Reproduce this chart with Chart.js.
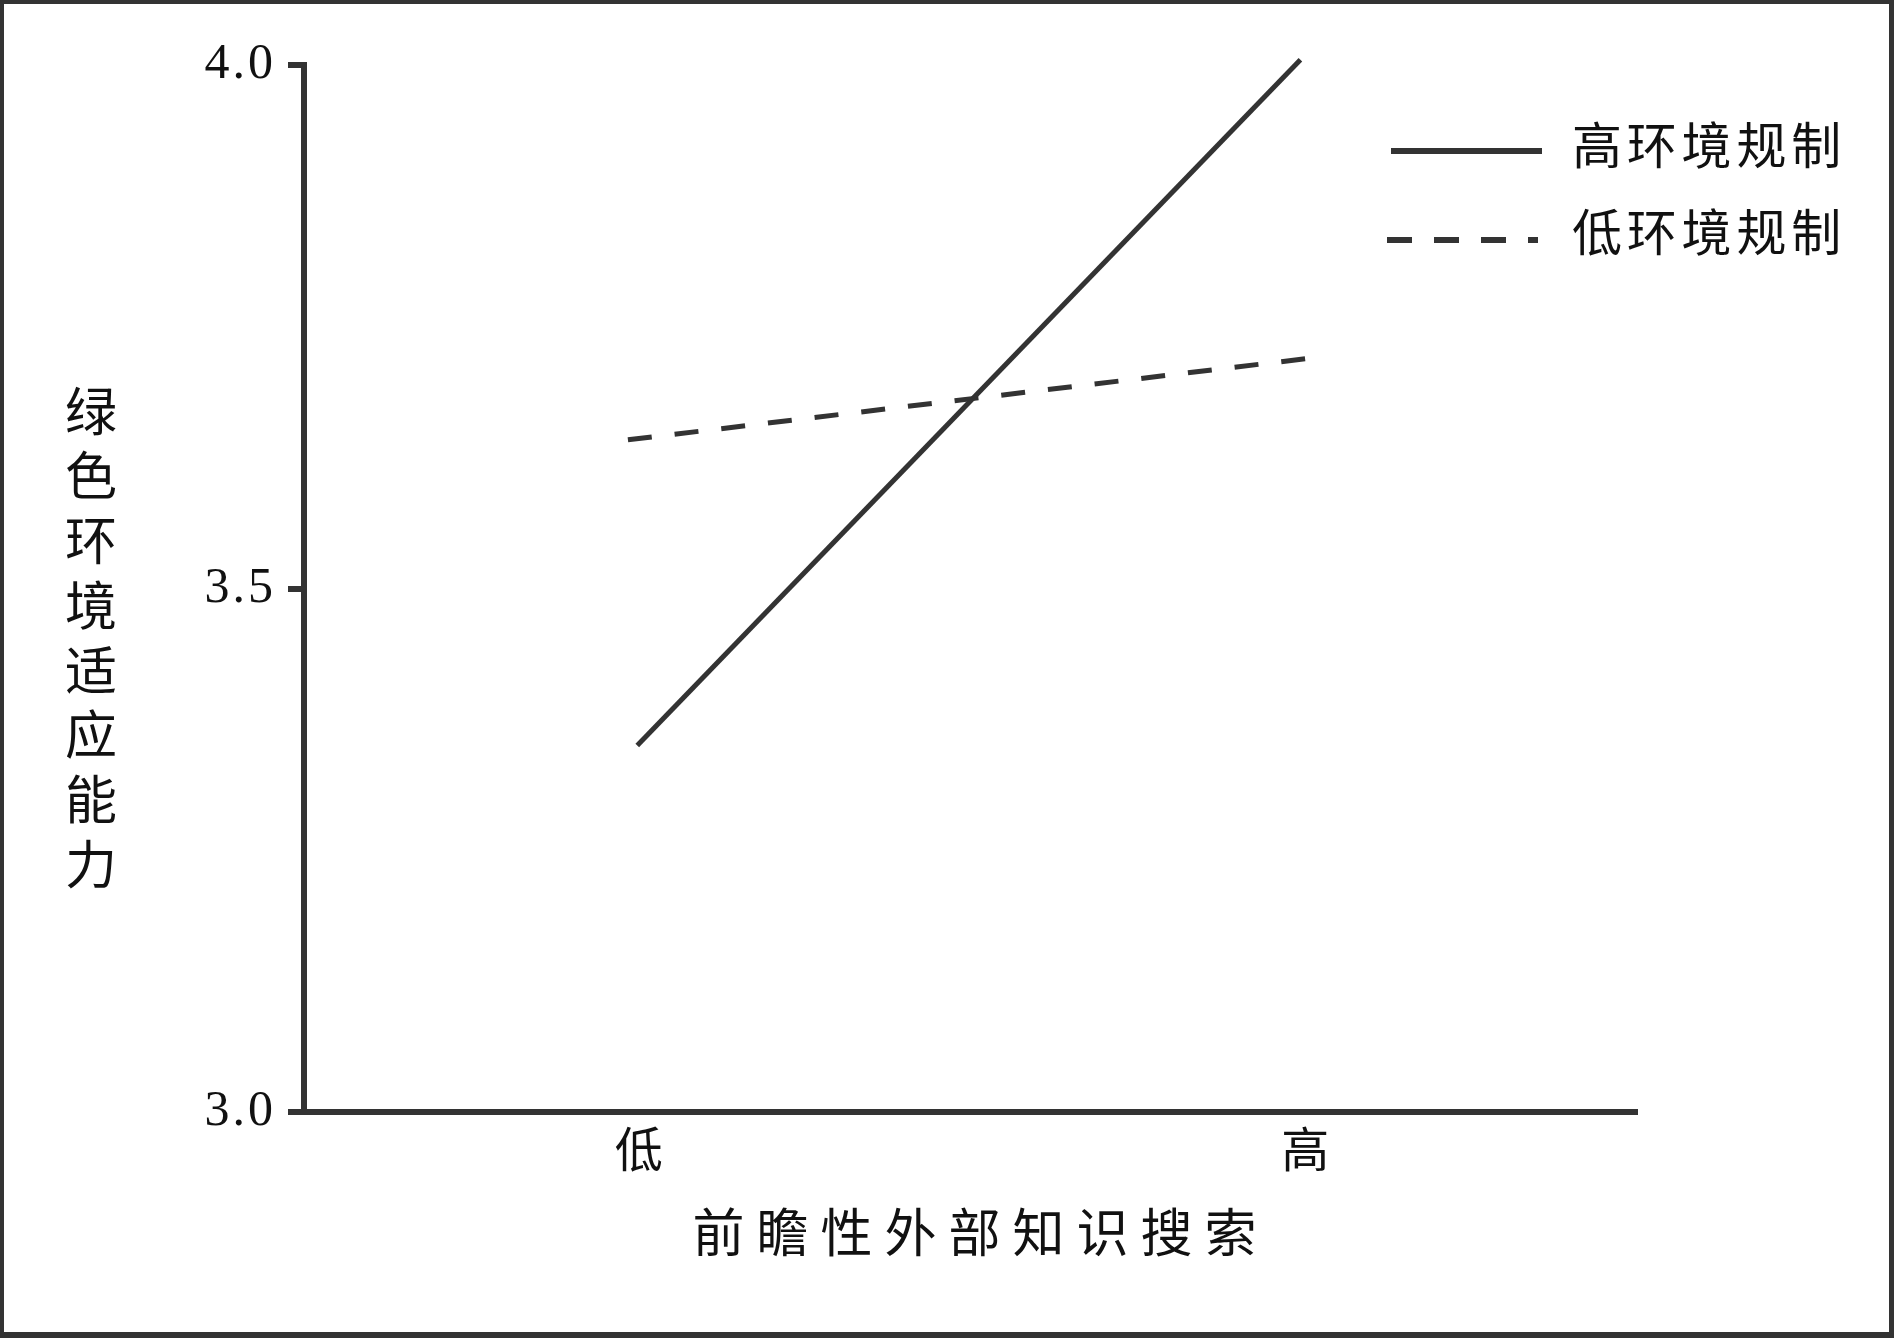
<!DOCTYPE html>
<html>
<head>
<meta charset="utf-8">
<script src="https://cdn.jsdelivr.net/npm/chart.js@4/dist/chart.umd.min.js"></script>
<style>
  html, body { margin: 0; padding: 0; background: #fff; }
  #wrap { position: relative; width: 1894px; height: 1338px; overflow: hidden; }
  #frame { position: absolute; left: 0; top: 0; width: 1894px; height: 1338px; box-sizing: border-box;
           border-style: solid; border-color: #333; border-width: 4px 5px 6px 4px; pointer-events: none; }
  canvas { display: block; }
</style>
</head>
<body>
<div id="wrap">
  <canvas id="c" width="1894" height="1338"></canvas>
  <div id="frame"></div>
</div>
<script>
// ---- data ----
const categories = ['低', '高'];
const categoryPositions = [0, 1];
const seriesNames = ['高环境规制', '低环境规制'];
const highRegulationX = [0, 0.995];
const highRegulation = [3.35, 4.005];
const lowRegulationX = [-0.014, 1.01];
const lowRegulation = [3.642, 3.72];
const yTickValues = [3.0, 3.5, 4.0];
const xTitle = '前瞻性外部知识搜索';
const yTitle = '绿色环境适应能力';

// ---- styles ----
const INK = '#333333';
const TEXT = '#111111';
const CJK = '"Noto Sans CJK SC", "Noto Sans CJK JP", sans-serif';
const SERIF = '"Liberation Serif", "DejaVu Serif", serif';

const spacing = {
  id: 'spacing',
  beforeDraw(chart) { chart.ctx.letterSpacing = '3px'; }
};

const overlay = {
  id: 'overlay',
  afterDraw(chart) {
    const ctx = chart.ctx;
    const area = chart.chartArea;
    ctx.save();
    ctx.letterSpacing = '0px';
    ctx.fillStyle = TEXT;
    ctx.textAlign = 'center';
    ctx.textBaseline = 'middle';

    // vertical y-axis title, upright stacked characters
    ctx.font = '52px ' + CJK;
    Array.from(yTitle).forEach((ch, i) => ctx.fillText(ch, 91, 411 + i * 64.7));

    // x-axis title with wide spacing
    const xc = (area.left + area.right) / 2 + 4;
    const xs = Array.from(xTitle);
    xs.forEach((ch, i) => ctx.fillText(ch, xc + (i - (xs.length - 1) / 2) * 64, 1232));

    // legend
    const items = chart.data.datasets.map((ds, i) => ({
      label: ds.label,
      dash: i === 0 ? [] : [25, 22],
      y: i === 0 ? 151 : 240,
      ty: i === 0 ? 145 : 232,
      x0: i === 0 ? 1391 : 1387,
      x1: i === 0 ? 1542 : 1538,
      color: ds.borderColor
    }));
    ctx.font = '50px ' + CJK;
    items.forEach(it => {
      ctx.beginPath();
      ctx.setLineDash(it.dash);
      ctx.lineWidth = 6;
      ctx.strokeStyle = it.color;
      ctx.moveTo(it.x0, it.y);
      ctx.lineTo(it.x1, it.y);
      ctx.stroke();
      ctx.setLineDash([]);
      Array.from(it.label).forEach((ch, k) => ctx.fillText(ch, 1597 + k * 54.8, it.ty));
    });
    ctx.restore();
  }
};

function toPoints(xs, ys) { return xs.map((x, i) => ({ x: x, y: ys[i] })); }

function draw() {
  new Chart(document.getElementById('c'), {
    type: 'line',
    data: {
      datasets: [
        { label: seriesNames[0], data: toPoints(highRegulationX, highRegulation), borderColor: INK, borderWidth: 5,
          pointRadius: 0, fill: false, tension: 0, clip: false },
        { label: seriesNames[1], data: toPoints(lowRegulationX, lowRegulation), borderColor: INK, borderWidth: 5,
          borderDash: [24, 23], pointRadius: 0, fill: false, tension: 0, clip: false }
      ]
    },
    options: {
      responsive: false,
      animation: false,
      events: [],
      layout: { padding: { left: 0, top: 65, right: 257, bottom: 0 } },
      plugins: { legend: { display: false }, tooltip: { enabled: false } },
      scales: {
        x: {
          type: 'linear',
          min: -0.5, max: 1.5,
          afterBuildTicks(scale) { scale.ticks = categoryPositions.map(v => ({ value: v })); },
          grid: { display: false, drawTicks: false },
          border: { display: true, color: INK, width: 6 },
          ticks: { color: TEXT, font: { family: CJK, size: 48 }, padding: 8, maxRotation: 0, labelOffset: 3,
                   callback: v => categories[categoryPositions.indexOf(v)] },
          afterFit(scale) { scale.height = 226; }
        },
        y: {
          min: 3, max: 4,
          afterBuildTicks(scale) { scale.ticks = yTickValues.map(v => ({ value: v })); },
          grid: { display: true, drawOnChartArea: false, drawTicks: true, tickLength: 16,
                  lineWidth: 6, color: INK },
          border: { display: true, color: INK, width: 6 },
          ticks: { color: TEXT, font: { family: SERIF, size: 50 }, padding: 12,
                   callback: v => Number(v).toFixed(1) },
          afterFit(scale) { scale.width = 304; }
        }
      }
    },
    plugins: [spacing, overlay]
  });
}

Promise.all([
  document.fonts.load('48px "Noto Sans CJK SC"', '低高绿色环境'),
  document.fonts.load('50px "Liberation Serif"', '3.0')
]).then(draw, draw);
</script>
</body>
</html>
